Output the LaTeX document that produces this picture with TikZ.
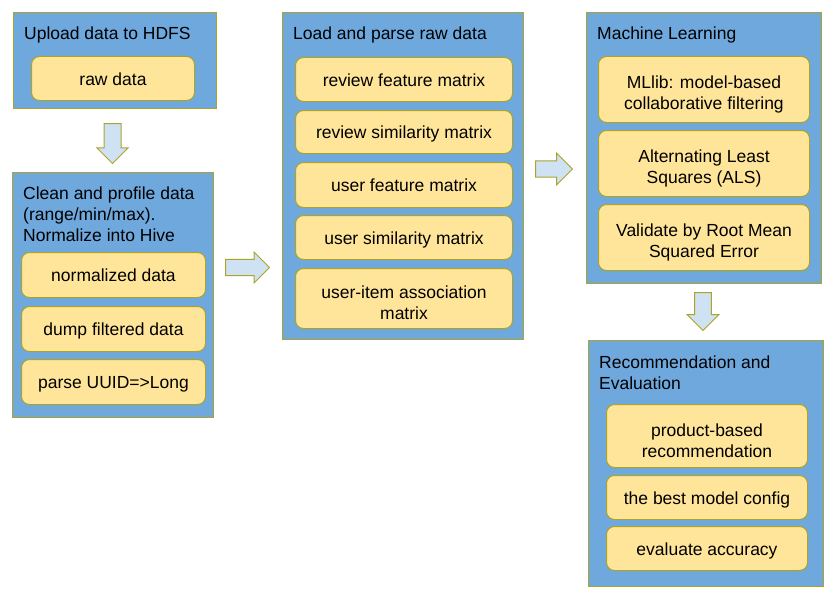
\documentclass[tikz,border=0pt]{standalone}
\usepackage{fontspec}
\setmainfont{Liberation Sans}
\usetikzlibrary{shapes.arrows}
\definecolor{stepblue}{RGB}{111,168,220}
\definecolor{itemyellow}{RGB}{255,229,153}
\definecolor{olive}{RGB}{170,164,40}
\definecolor{arrowblue}{RGB}{207,226,243}
\newcommand{\toppad}{\rule{0pt}{22pt}}
\tikzset{
  group/.style={draw=olive, line width=1.3pt, fill=stepblue, anchor=north west, inner sep=0},
  grouptitle/.style={anchor=west, align=left, inner sep=0},
  item/.style={draw=olive, line width=1pt, fill=itemyellow, rounded corners=8pt, anchor=north west, align=center, inner sep=0},
  oneline/.style={text height=13.5pt, text depth=0pt},
  blockarrow/.style={single arrow, draw=olive, line width=1pt, fill=arrowblue, inner sep=0, single arrow head indent=0pt, anchor=tail}
}

\begin{document}
\begin{tikzpicture}[x=1pt, y=-1pt, font=\fontsize{17.5}{21}\selectfont]
\useasboundingbox (0,0) rectangle (840,602);
% upload
\node [group, minimum width=203, minimum height=96] (upload) at (13,12) {};
\node [grouptitle, anchor=base west] (uploadtitle) at (24,40) {Upload data to HDFS};
\node [item, oneline, minimum width=163, minimum height=44] (rawdata) at (31,56) {raw data};
% clean
\node [group, minimum width=201, minimum height=245] (clean) at (12,172) {};
\node [grouptitle] (cleantitle) at (23,214) {Clean and profile data\\(range/min/max).\\Normalize into Hive};
\node [item, oneline, minimum width=184, minimum height=45] (normdata) at (21,252) {normalized data};
\node [item, oneline, minimum width=184, minimum height=45] (dumpdata) at (21,306) {dump filtered data};
\node [item, oneline, minimum width=184, minimum height=45] (parseuuid) at (21,359) {parse UUID=>Long};
% load
\node [group, minimum width=241, minimum height=327] (load) at (282,12) {};
\node [grouptitle, anchor=base west] (loadtitle) at (293,40) {Load and parse raw data};
\node [item, oneline, minimum width=217, minimum height=44] (revfeat) at (295,57) {review feature matrix};
\node [item, oneline, minimum width=217, minimum height=43] (revsim) at (295,110) {review similarity matrix};
\node [item, oneline, minimum width=217, minimum height=45] (userfeat) at (295,162) {user feature matrix};
\node [item, oneline, minimum width=217, minimum height=44] (usersim) at (295,215) {user similarity matrix};
\node [item, minimum width=217, minimum height=60] (useritem) at (295,268) {\toppad user-item association\\matrix};
% machine learning
\node [group, minimum width=235, minimum height=271] (ml) at (586,12) {};
\node [grouptitle, anchor=base west] (mltitle) at (597,40) {Machine Learning};
\node [item, minimum width=211, minimum height=66] (mllib) at (598,56) {\toppad MLlib: model-based\\collaborative filtering};
\node [item, minimum width=211, minimum height=66] (als) at (598,130) {\toppad Alternating Least\\Squares (ALS)};
\node [item, minimum width=211, minimum height=66] (rmse) at (598,204) {\toppad Validate by Root Mean\\Squared Error};
% recommendation
\node [group, minimum width=235, minimum height=246] (rec) at (588,340) {};
\node [grouptitle] (rectitle) at (599,372.5) {Recommendation and\\Evaluation};
\node [item, minimum width=201, minimum height=63] (prodrec) at (606,404) {\toppad product-based\\recommendation};
\node [item, oneline, minimum width=201, minimum height=44] (bestmodel) at (606,475) {the best model config};
\node [item, oneline, minimum width=201, minimum height=44] (evalacc) at (606,526) {evaluate accuracy};
% arrows
\node [blockarrow, rotate=-90, minimum height=40, minimum width=31, inner ysep=8] (arrowa) at (112.5,123) {};
\node [blockarrow, minimum height=44, minimum width=31, inner ysep=7.5] (arrowb) at (225,267.5) {};
\node [blockarrow, minimum height=37, minimum width=32, inner ysep=7] (arrowc) at (535,169) {};
\node [blockarrow, rotate=-90, minimum height=38, minimum width=32, inner ysep=7.5] (arrowd) at (703,292) {};
\end{tikzpicture}
\end{document}
